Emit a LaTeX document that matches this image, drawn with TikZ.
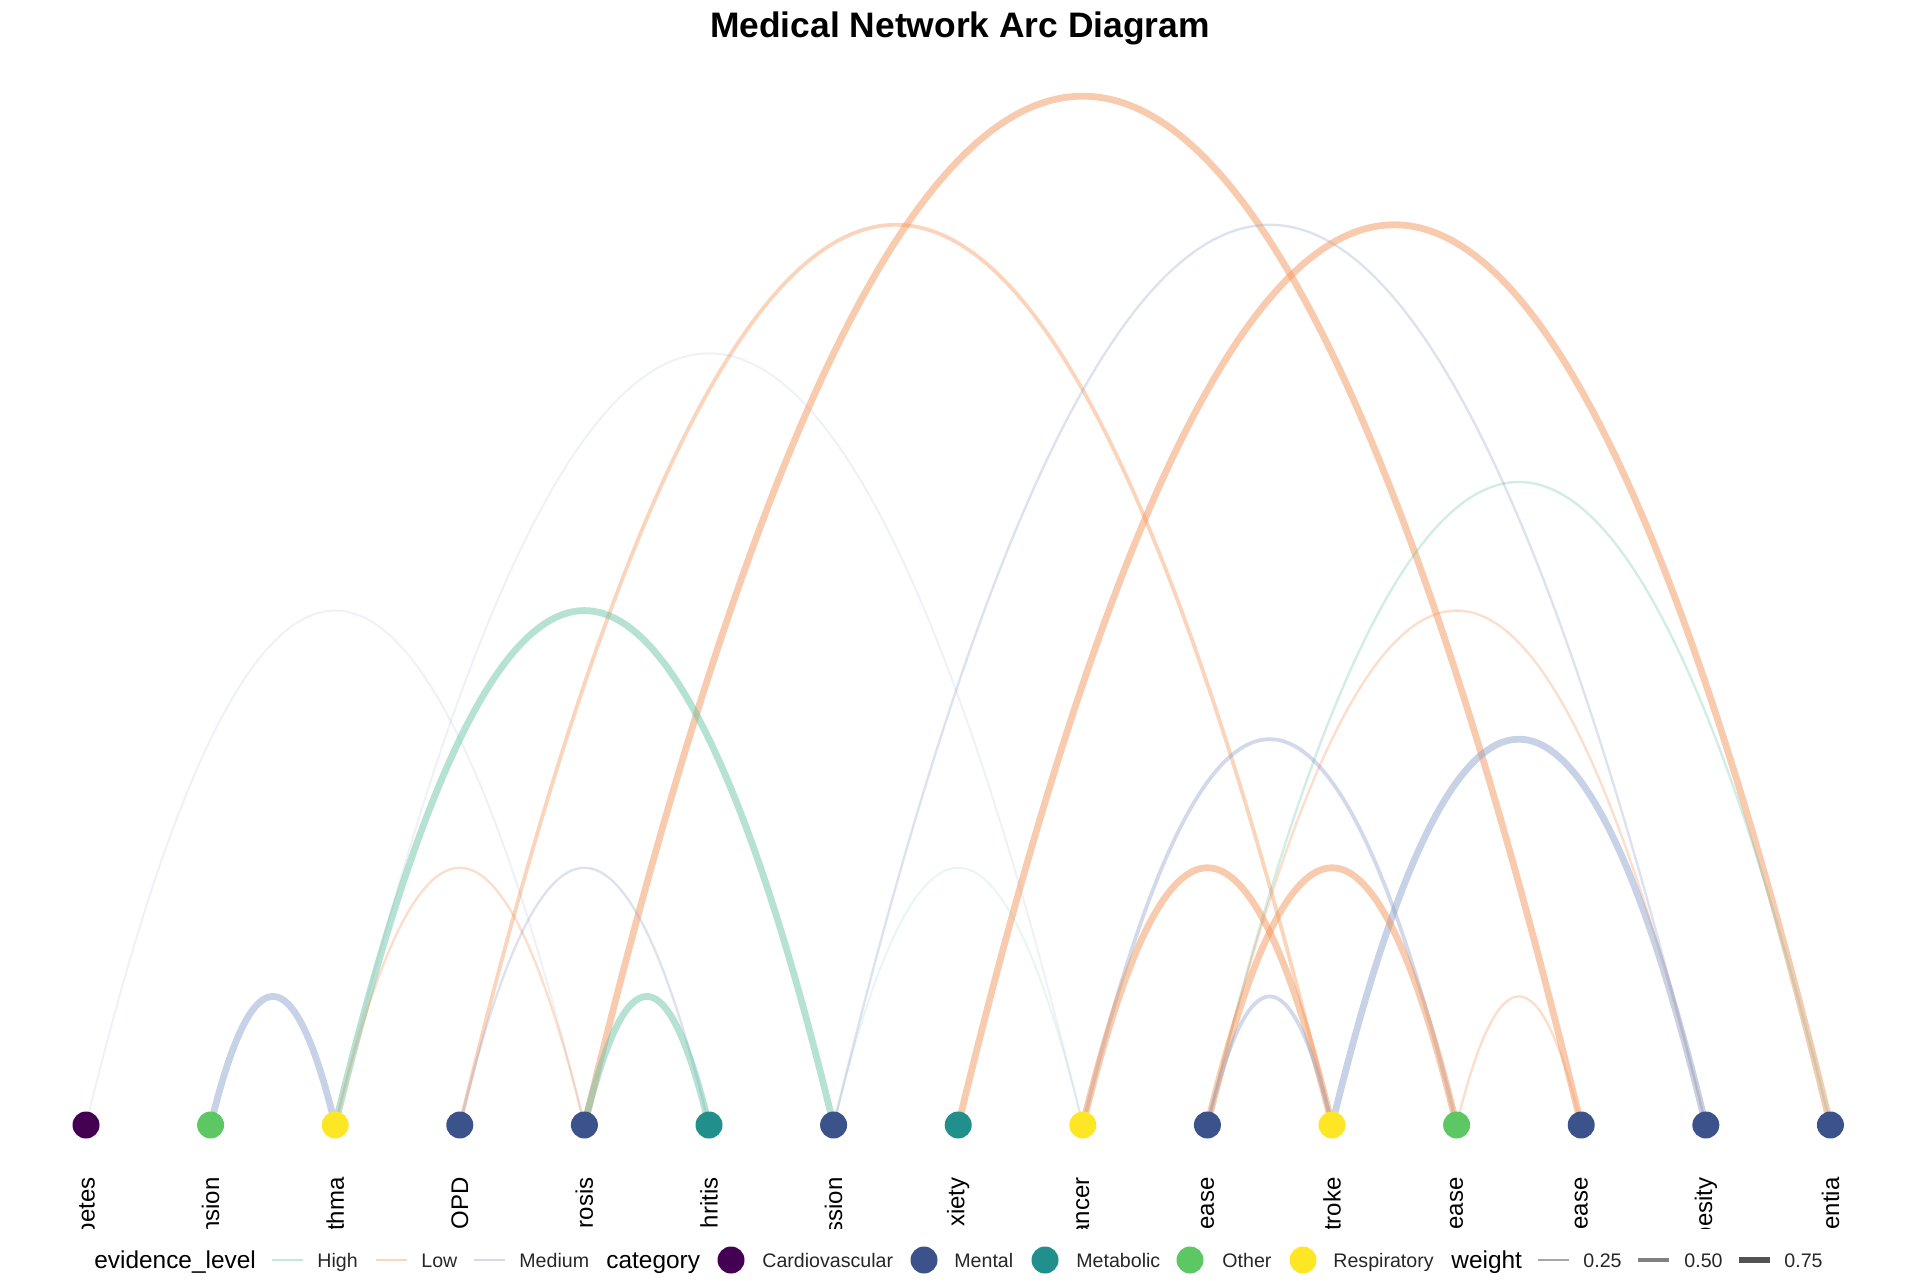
\documentclass[tikz,border=0pt]{standalone}
\usepackage{fontspec}
\setmainfont{Liberation Sans}
\usetikzlibrary{positioning,backgrounds}
\definecolor{evhigh}{HTML}{66C2A5}
\definecolor{evlow}{HTML}{F39355}
\definecolor{evmed}{HTML}{8DA0CB}
\definecolor{catcardio}{HTML}{440154}
\definecolor{catmental}{HTML}{3B528B}
\definecolor{catmetab}{HTML}{21908C}
\definecolor{catother}{HTML}{5DC863}
\definecolor{catresp}{HTML}{FDE725}

\begin{document}
\begin{tikzpicture}[
  x=1pt, y=1pt,
  node distance=62.3pt, on grid,
  cnode/.style={circle, inner sep=0pt, minimum size=13.5pt},
  lbl/.style={rotate=90, anchor=east, inner sep=0pt, font=\fontsize{12}{14}\selectfont},
  ehigh/.style={draw=evhigh},
  elow/.style={draw=evlow},
  emed/.style={draw=evmed},
  wfaint/.style={line width=1pt, draw opacity=0.15},
  wlight/.style={line width=1.2pt, draw opacity=0.3},
  wmid/.style={line width=1.9pt, draw opacity=0.4},
  wheavy/.style={line width=3.4pt, draw opacity=0.48},
  ttl/.style={anchor=base west, inner sep=0pt, font=\fontsize{12.2}{14}\selectfont},
  lgtxt/.style={anchor=base west, inner sep=0pt, text=black!85, font=\fontsize{9.8}{12}\selectfont},
  keybar/.style={rectangle, inner sep=0pt, minimum width=15.5pt}
]
  \useasboundingbox (0,0) rectangle (960,640);

  \node[font=\fontsize{17.7}{20}\selectfont\bfseries, anchor=base] (title) at (480,621) {Medical Network Arc Diagram};

  % diseases on one line
  \node[cnode, fill=catcardio] (n1) at (43,77.5) {};
  \node[cnode, fill=catother, right=of n1] (n2) {};
  \node[cnode, fill=catresp, right=of n2] (n3) {};
  \node[cnode, fill=catmental, right=of n3] (n4) {};
  \node[cnode, fill=catmental, right=of n4] (n5) {};
  \node[cnode, fill=catmetab, right=of n5] (n6) {};
  \node[cnode, fill=catmental, right=of n6] (n7) {};
  \node[cnode, fill=catmetab, right=of n7] (n8) {};
  \node[cnode, fill=catresp, right=of n8] (n9) {};
  \node[cnode, fill=catmental, right=of n9] (n10) {};
  \node[cnode, fill=catresp, right=of n10] (n11) {};
  \node[cnode, fill=catother, right=of n11] (n12) {};
  \node[cnode, fill=catmental, right=of n12] (n13) {};
  \node[cnode, fill=catmental, right=of n13] (n14) {};
  \node[cnode, fill=catmental, right=of n14] (n15) {};

  % names, cut off by the panel
  \begin{scope}
    \clip (0,25.8) rectangle (960,640);
    \node[lbl] (t1) at ([yshift=-26pt]n1.center) {betes};
    \node[lbl] (t2) at ([yshift=-26pt]n2.center) {nsion};
    \node[lbl] (t3) at ([yshift=-26pt]n3.center) {thma};
    \node[lbl] (t4) at ([yshift=-26pt]n4.center) {OPD};
    \node[lbl] (t5) at ([yshift=-26pt]n5.center) {rosis};
    \node[lbl] (t6) at ([yshift=-26pt]n6.center) {hritis};
    \node[lbl] (t7) at ([yshift=-26pt]n7.center) {ssion};
    \node[lbl] (t8) at ([yshift=-26pt]n8.center) {xiety};
    \node[lbl] (t9) at ([yshift=-26pt]n9.center) {ancer};
    \node[lbl] (t10) at ([yshift=-26pt]n10.center) {ease};
    \node[lbl] (t11) at ([yshift=-26pt]n11.center) {troke};
    \node[lbl] (t12) at ([yshift=-26pt]n12.center) {ease};
    \node[lbl] (t13) at ([yshift=-26pt]n13.center) {ease};
    \node[lbl] (t14) at ([yshift=-26pt]n14.center) {besity};
    \node[lbl] (t15) at ([yshift=-26pt]n15.center) {entia};
  \end{scope}

  % arcs under the nodes
  \begin{scope}[on background layer]
    \draw[elow, wheavy] (n5.center) .. controls +(166.13,685.87) and +(-166.13,685.87) .. (n13.center);
    \draw[elow, wmid] (n4.center) .. controls +(145.37,600.13) and +(-145.37,600.13) .. (n11.center);
    \draw[emed, wlight] (n7.center) .. controls +(145.37,600.13) and +(-145.37,600.13) .. (n14.center);
    \draw[elow, wheavy] (n8.center) .. controls +(145.37,600.13) and +(-145.37,600.13) .. (n15.center);
    \draw[emed, wfaint] (n3.center) .. controls +(124.6,514.4) and +(-124.6,514.4) .. (n9.center);
    \draw[ehigh, wlight] (n10.center) .. controls +(103.83,428.67) and +(-103.83,428.67) .. (n15.center);
    \draw[emed, wfaint] (n1.center) .. controls +(83.07,342.93) and +(-83.07,342.93) .. (n5.center);
    \draw[ehigh, wheavy] (n3.center) .. controls +(83.07,342.93) and +(-83.07,342.93) .. (n7.center);
    \draw[elow, wlight] (n10.center) .. controls +(83.07,342.93) and +(-83.07,342.93) .. (n14.center);
    \draw[emed, wmid] (n9.center) .. controls +(62.3,257.2) and +(-62.3,257.2) .. (n12.center);
    \draw[emed, wheavy] (n11.center) .. controls +(62.3,257.2) and +(-62.3,257.2) .. (n14.center);
    \draw[elow, wlight] (n3.center) .. controls +(41.53,171.47) and +(-41.53,171.47) .. (n5.center);
    \draw[emed, wlight] (n4.center) .. controls +(41.53,171.47) and +(-41.53,171.47) .. (n6.center);
    \draw[ehigh, wfaint] (n7.center) .. controls +(41.53,171.47) and +(-41.53,171.47) .. (n9.center);
    \draw[elow, wheavy] (n9.center) .. controls +(41.53,171.47) and +(-41.53,171.47) .. (n11.center);
    \draw[elow, wheavy] (n10.center) .. controls +(41.53,171.47) and +(-41.53,171.47) .. (n12.center);
    \draw[emed, wheavy] (n2.center) .. controls +(20.77,85.73) and +(-20.77,85.73) .. (n3.center);
    \draw[ehigh, wheavy] (n5.center) .. controls +(20.77,85.73) and +(-20.77,85.73) .. (n6.center);
    \draw[emed, wmid] (n10.center) .. controls +(20.77,85.73) and +(-20.77,85.73) .. (n11.center);
    \draw[elow, wlight] (n12.center) .. controls +(20.77,85.73) and +(-20.77,85.73) .. (n13.center);
  \end{scope}

  % legend
  \node[ttl] (lgev) at (47,5.8) {evidence\_level};
  \node[keybar, minimum height=1.2pt, fill=evhigh!40] (kyhigh) at (143.5,10) {};
  \node[lgtxt] (lghigh) at (158.5,6.5) {High};
  \node[keybar, minimum height=1.2pt, fill=evlow!40] (kylow) at (195.75,10) {};
  \node[lgtxt] (lglow) at (210.5,6.5) {Low};
  \node[keybar, minimum height=1.2pt, fill=evmed!40] (kymed) at (244.75,10) {};
  \node[lgtxt] (lgmed) at (259.5,6.5) {Medium};

  \node[ttl] (lgcat) at (303,5.8) {category};
  \node[cnode, fill=catcardio] (kycardio) at (365.5,10) {};
  \node[lgtxt] (lgcardio) at (381,6.5) {Cardiovascular};
  \node[cnode, fill=catmental] (kymental) at (462,10) {};
  \node[lgtxt] (lgmental) at (477,6.5) {Mental};
  \node[cnode, fill=catmetab] (kymetab) at (522.5,10) {};
  \node[lgtxt] (lgmetab) at (538,6.5) {Metabolic};
  \node[cnode, fill=catother] (kyother) at (595,10) {};
  \node[lgtxt] (lgother) at (611,6.5) {Other};
  \node[cnode, fill=catresp] (kyresp) at (651.5,10) {};
  \node[lgtxt] (lgresp) at (666.5,6.5) {Respiratory};

  \node[ttl] (lgwt) at (725.5,5.8) {weight};
  \node[keybar, minimum height=1.1pt, fill=black!35] (kyqa) at (776.75,10) {};
  \node[lgtxt] (lgqa) at (791.5,6.5) {0.25};
  \node[keybar, minimum height=2.2pt, fill=black!50] (kyqb) at (826.75,10) {};
  \node[lgtxt] (lgqb) at (842,6.5) {0.50};
  \node[keybar, minimum height=3.4pt, fill=black!68] (kyqc) at (877,10) {};
  \node[lgtxt] (lgqc) at (892,6.5) {0.75};
\end{tikzpicture}
\end{document}
